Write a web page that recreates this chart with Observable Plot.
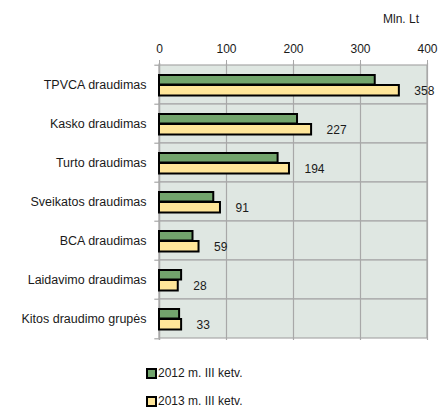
<!DOCTYPE html>
<html>
<head>
<meta charset="utf-8">
<script src="https://cdn.jsdelivr.net/npm/d3@7"></script>
<script src="https://cdn.jsdelivr.net/npm/@observablehq/plot@0.6"></script>
<style>
  html, body { margin: 0; padding: 0; background: #fff; }
  body { width: 440px; height: 407px; overflow: hidden; font-family: "Liberation Sans", Arial, sans-serif; color: #1a1a1a; }
  #wrap { position: relative; width: 440px; }
  #unit { position: absolute; left: 383px; top: 12px; font-size: 12px; }
  .leg { display: flex; align-items: center; height: 28px; padding-left: 146px; font-size: 12px; }
  .sw { width: 7px; height: 7px; border: 2px solid #000; margin-right: 1px; box-sizing: content-box; }
  svg text { font-family: "Liberation Sans", Arial, sans-serif; }
</style>
</head>
<body>
<div id="wrap">
  <div id="unit">Mln. Lt</div>
  <div id="chart"></div>
  <div id="legend" style="padding-top:14px"></div>
</div>
<script>
const categories = ["TPVCA draudimas", "Kasko draudimas", "Turto draudimas", "Sveikatos draudimas", "BCA draudimas", "Laidavimo draudimas", "Kitos draudimo grupės"];
const v2012 = [322, 206, 177, 81, 50, 33, 30];
const v2013 = [358, 227, 194, 91, 59, 28, 33];
const seriesNames = ["2012 m. III ketv.", "2013 m. III ketv."];
const xTicks = [0, 100, 200, 300, 400];

const green = "#72a46c";
const yellow = "#ffe699";
const bg = "#dfe7e2";
const grid = "#a8a8a8";

const rows = categories.map((c, i) => ({cat: c, a: v2012[i], b: v2013[i]}));
const H = 345, MT = 63, MB = 5;
const band = (H - MT - MB) / categories.length;

const chart = Plot.plot({
  width: 440,
  height: H,
  marginLeft: 159,
  marginRight: 13,
  marginTop: MT,
  marginBottom: MB,
  x: {domain: [0, 400]},
  y: {domain: categories, padding: 0},
  style: {fontFamily: "Liberation Sans, Arial, sans-serif", fontSize: "12px", color: "#1a1a1a"},
  marks: [
    Plot.barX(categories, {y: d => d, x1: 0, x2: 400, fill: bg, stroke: grid, strokeWidth: 1.2}),
    Plot.ruleX(xTicks.slice(1), {stroke: grid, strokeWidth: 1.2}),
    Plot.ruleY(categories, {y: d => d, x1: -7, x2: 0, dy: -band / 2, stroke: grid, strokeWidth: 1.2, clip: false}),
    Plot.ruleY(categories.slice(-1), {y: d => d, x1: -7, x2: 0, dy: band / 2, stroke: grid, strokeWidth: 1.2, clip: false}),
    Plot.ruleX([0], {stroke: grid, strokeWidth: 1.5}),
    Plot.axisX({anchor: "top", ticks: xTicks, tickSize: 4, tickPadding: 7, fontSize: 12, stroke: grid, tickFormat: d => d, label: null}),
    Plot.axisY({tickSize: 0, tickPadding: 13, fontSize: 12.5, label: null}),
    Plot.barX(rows, {y: "cat", x1: 0, x2: "a", fill: green, stroke: "#000", strokeWidth: 2, insetTop: 10, insetBottom: 19.5}),
    Plot.barX(rows, {y: "cat", x1: 0, x2: "b", fill: yellow, stroke: "#000", strokeWidth: 2, insetTop: 20, insetBottom: 8.5}),
    Plot.text(rows, {y: "cat", x: "b", text: d => String(d.b), textAnchor: "start", dx: 15, dy: 6, fontSize: 12, fill: "#1a1a1a"})
  ]
});
document.getElementById("chart").appendChild(chart);

const leg = document.getElementById("legend");
[green, yellow].forEach((col, i) => {
  const row = document.createElement("div");
  row.className = "leg";
  const sw = document.createElement("span");
  sw.className = "sw";
  sw.style.background = col;
  const t = document.createElement("span");
  t.textContent = seriesNames[i];
  row.appendChild(sw);
  row.appendChild(t);
  leg.appendChild(row);
});
</script>
</body>
</html>
